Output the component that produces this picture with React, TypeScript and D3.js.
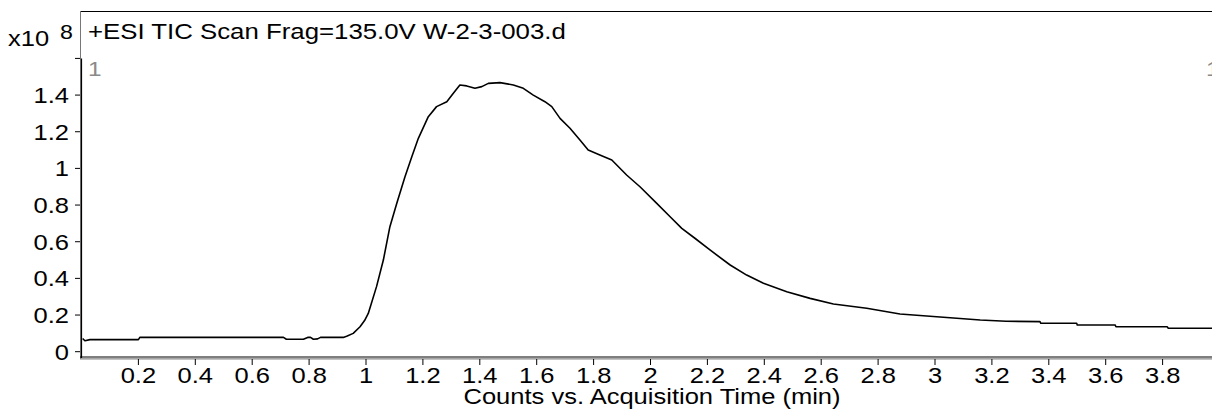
import React from "react";
import * as d3 from "d3";

const times = [0.004, 0.012, 0.03, 0.2, 0.205, 0.71, 0.72, 0.78, 0.795, 0.805, 0.815, 0.83, 0.84, 0.92, 0.932, 0.955, 0.979, 0.995, 1.008, 1.037, 1.061, 1.084, 1.108, 1.137, 1.161, 1.184, 1.219, 1.248, 1.284, 1.307, 1.33, 1.354, 1.383, 1.407, 1.43, 1.471, 1.518, 1.553, 1.588, 1.629, 1.653, 1.682, 1.717, 1.752, 1.781, 1.822, 1.864, 1.916, 1.963, 2.022, 2.069, 2.11, 2.156, 2.209, 2.28, 2.338, 2.397, 2.479, 2.561, 2.643, 2.76, 2.877, 3.006, 3.159, 3.25, 3.369, 3.372, 3.498, 3.5, 3.633, 3.636, 3.816, 3.82, 3.99];
const counts = [0.072, 0.06, 0.066, 0.066, 0.078, 0.078, 0.068, 0.068, 0.078, 0.078, 0.068, 0.07, 0.078, 0.078, 0.084, 0.1, 0.136, 0.17, 0.209, 0.355, 0.5, 0.682, 0.809, 0.955, 1.064, 1.164, 1.282, 1.337, 1.364, 1.41, 1.455, 1.45, 1.437, 1.446, 1.464, 1.468, 1.455, 1.437, 1.4, 1.364, 1.337, 1.273, 1.219, 1.155, 1.1, 1.073, 1.046, 0.964, 0.9, 0.809, 0.736, 0.673, 0.619, 0.555, 0.473, 0.418, 0.373, 0.327, 0.291, 0.26, 0.237, 0.206, 0.191, 0.173, 0.166, 0.164, 0.155, 0.155, 0.146, 0.146, 0.136, 0.136, 0.128, 0.128];

const xTicks = [0.2, 0.4, 0.6, 0.8, 1, 1.2, 1.4, 1.6, 1.8, 2, 2.2, 2.4, 2.6, 2.8, 3, 3.2, 3.4, 3.6, 3.8];
const yTicks = [0, 0.2, 0.4, 0.6, 0.8, 1, 1.2, 1.4, 1.6];
const yLabeled = [0, 0.2, 0.4, 0.6, 0.8, 1, 1.2, 1.4];

const title = "+ESI TIC Scan Frag=135.0V W-2-3-003.d";
const xTitle = "Counts vs. Acquisition Time (min)";

const W = 1212;
const H = 412;
const FONT = "'Liberation Sans', Arial, sans-serif";
const FS = 22;
const SX = 1.16;

function T(props: { x: number; y: number; anchor?: string; size?: number; sx?: number; fill?: string; dy?: string; children: React.ReactNode }) {
  const { x, y, anchor = "start", size = FS, sx = SX, fill = "#000", dy, children } = props;
  return (
    <text transform={`translate(${x},${y}) scale(${sx},1)`} textAnchor={anchor} fontSize={size} fill={fill} dy={dy}>
      {children}
    </text>
  );
}

export default function App() {
  const left = 81.5;
  const bottom = 357;
  const top = 11;
  const x = d3.scaleLinear().domain([0, 4]).range([left, left + 4 * 284.5]);
  const y = d3.scaleLinear().domain([0, 1.6]).range([351.7, 351.7 - 1.6 * 183.3]);
  const data = times.map((t, i) => [t, counts[i]] as [number, number]);
  const line = d3.line<[number, number]>().x((d) => x(d[0])).y((d) => y(d[1]));
  const fmt = (v: number) => String(+v.toFixed(1));

  return (
    <svg width={W} height={H} style={{ position: "absolute", left: 0, top: 0, background: "#fff" }} fontFamily={FONT}>
      <rect x={0} y={0} width={W} height={H} fill="#fff" />
      {/* frame */}
      <line x1={80} x2={W} y1={top + 0.5} y2={top + 0.5} stroke="#000" strokeWidth={1} />
      <line x1={80.5} x2={80.5} y1={top} y2={bottom + 2} stroke="#777" strokeWidth={1} />
      <line x1={81.5} x2={81.5} y1={y(1.6)} y2={bottom + 1} stroke="#000" strokeWidth={1.2} />
      <line x1={80} x2={W} y1={bottom} y2={bottom} stroke="#000" strokeWidth={1.2} />
      <line x1={80} x2={W} y1={bottom + 1.8} y2={bottom + 1.8} stroke="#888" strokeWidth={1.2} />
      {/* y ticks */}
      {yTicks.map((v) => (
        <line key={"yt" + v} x1={75} x2={80} y1={y(v)} y2={y(v)} stroke="#000" strokeWidth={1} />
      ))}
      {yLabeled.map((v) => (
        <T key={"yl" + v} x={69} y={y(v)} dy="0.36em" anchor="end">
          {fmt(v)}
        </T>
      ))}
      {/* x ticks */}
      {xTicks.map((v) => (
        <g key={"xt" + v}>
          <line x1={x(v)} x2={x(v)} y1={bottom + 2} y2={bottom + 8} stroke="#000" strokeWidth={1} />
          <T x={x(v)} y={383} anchor="middle">
            {fmt(v)}
          </T>
        </g>
      ))}
      <T x={652} y={404} anchor="middle">
        {xTitle}
      </T>
      {/* multiplier */}
      <T x={8} y={46}>x10</T>
      <T x={60} y={39} size={20}>8</T>
      {/* title */}
      <T x={88} y={39} size={21.5} sx={1.2}>{title}</T>
      <T x={88} y={76} size={21} fill="#8a8a8a">1</T>
      <T x={1206} y={76} size={21} fill="#8a8a8a">1</T>
      {/* trace */}
      <path d={line(data) || ""} fill="none" stroke="#000" strokeWidth={1.6} strokeLinejoin="round" />
    </svg>
  );
}
